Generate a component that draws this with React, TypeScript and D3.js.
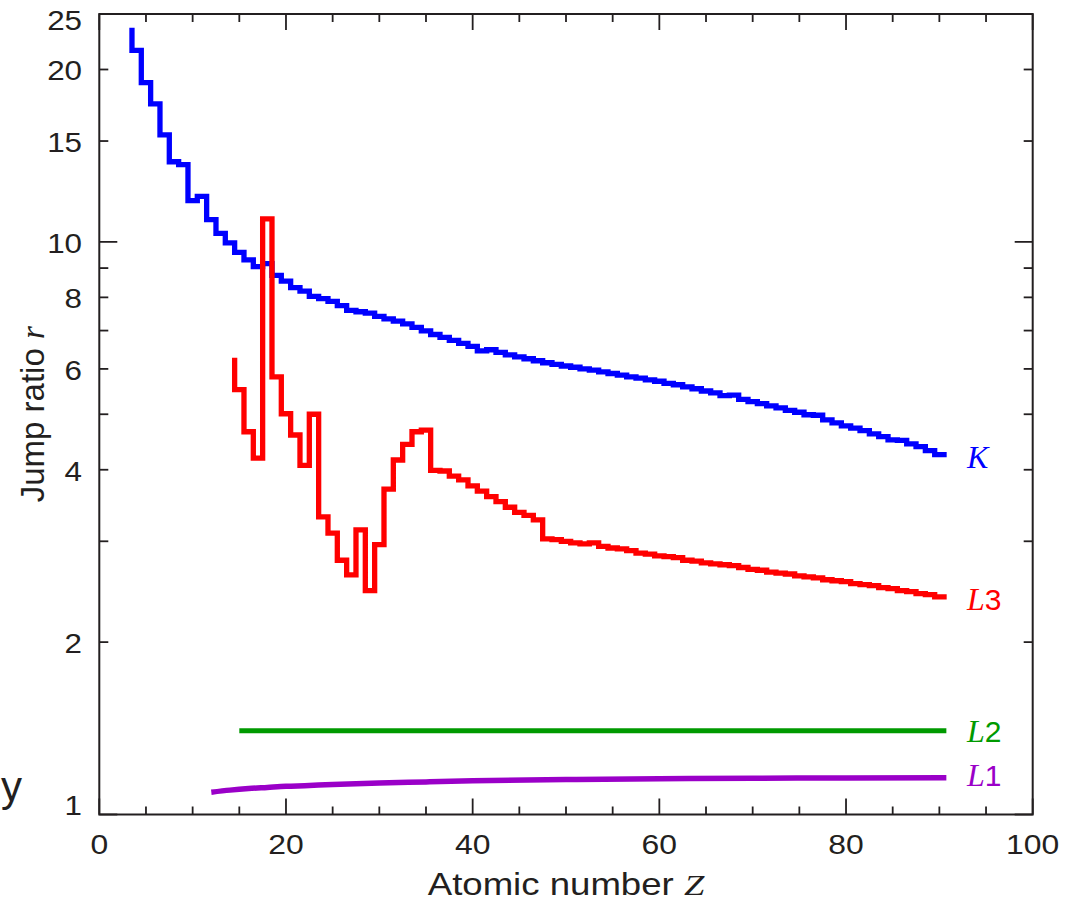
import React from 'react';
import * as d3 from 'd3';

const W = 1065;
const H = 903;
const PLOT = { left: 99.3, right: 1032.7, top: 14, bottom: 814.5 };

// K-edge jump ratio, Z = 3 .. 90
const K_START_Z = 3;
const kJump = [
  23.4, 21.6, 18.97, 17.42, 15.38, 13.8, 13.64, 11.8, 12.01, 10.94,
  10.35, 9.96, 9.59, 9.3, 9.05, 9.16, 8.74, 8.54, 8.32, 8.2,
  8.03, 7.96, 7.87, 7.74, 7.59, 7.55, 7.51, 7.41, 7.34, 7.27,
  7.19, 7.09, 6.99, 6.89, 6.81, 6.73, 6.65, 6.57, 6.45, 6.48,
  6.41, 6.35, 6.3, 6.25, 6.2, 6.15, 6.11, 6.07, 6.04, 6.0,
  5.97, 5.93, 5.89, 5.85, 5.81, 5.78, 5.74, 5.71, 5.66, 5.63,
  5.58, 5.54, 5.49, 5.45, 5.39, 5.4, 5.31, 5.26, 5.22, 5.17,
  5.13, 5.08, 5.04, 4.99, 4.98, 4.89, 4.83, 4.77, 4.73, 4.68,
  4.62, 4.57, 4.51, 4.5, 4.44, 4.39, 4.32, 4.25,
];

// L3-edge jump ratio, Z = 14 .. 90
const L3_START_Z = 14;
const l3Jump = [
  6.21, 5.52, 4.66, 4.19, 10.97, 5.81, 5.01, 4.6, 4.07, 5.0,
  3.31, 3.1, 2.78, 2.62, 3.14, 2.46, 2.96, 3.7, 4.16, 4.43,
  4.66, 4.69, 3.99, 3.98, 3.9, 3.84, 3.75, 3.67, 3.59, 3.52,
  3.44, 3.37, 3.33, 3.27, 3.03, 3.02, 3.0, 2.98, 2.97, 2.98,
  2.94, 2.92, 2.91, 2.89, 2.86, 2.85, 2.83, 2.82, 2.81, 2.78,
  2.77, 2.75, 2.74, 2.73, 2.72, 2.7, 2.68, 2.67, 2.65, 2.64,
  2.63, 2.61, 2.6, 2.59, 2.57, 2.56, 2.55, 2.53, 2.52, 2.51,
  2.49, 2.48, 2.46, 2.45, 2.43, 2.42, 2.4,
];

// L2-edge jump ratio (constant)
const l2Z = [15, 90.75];
const l2Jump = [1.4, 1.4];

// L1-edge jump ratio (smooth)
const l1Z = [12, 14, 16, 18, 20, 22, 25, 30, 35, 40, 50, 60, 70, 80, 90.75];
const l1Jump = [1.094, 1.103, 1.11, 1.115, 1.12, 1.123, 1.128, 1.135, 1.14, 1.145, 1.151, 1.155, 1.157, 1.158, 1.159];

const xMajorTicks = [0, 20, 40, 60, 80, 100];
const xMinorTicks = [5, 10, 15, 25, 30, 35, 45, 50, 55, 65, 70, 75, 85, 90, 95];
const yLabelTicks = [1, 2, 4, 6, 8, 10, 15, 20, 25];
const yLongTicks = [1, 10];
const yShortTicks = [2, 3, 4, 5, 6, 7, 8, 9, 15, 20];

const COLORS = { K: '#0000ff', L3: '#ff0000', L2: '#009a00', L1: '#9a00c8' };
const SANS = '"Liberation Sans", Arial, Helvetica, sans-serif';
const SERIF = '"Liberation Serif", "Times New Roman", serif';
const INK = '#231f20';

export default function App() {
  const x = d3.scaleLinear().domain([0, 100]).range([PLOT.left, PLOT.right]);
  const y = d3.scaleLog().domain([1, 25]).range([PLOT.bottom, PLOT.top]);

  const stepLine = d3
    .line<{ z: number; v: number }>()
    .x((d) => x(d.z + 0.5))
    .y((d) => y(d.v))
    .curve(d3.curveStepBefore);
  const smoothLine = d3
    .line<{ z: number; v: number }>()
    .x((d) => x(d.z))
    .y((d) => y(d.v))
    .curve(d3.curveMonotoneX);

  const kData = kJump.map((v, i) => ({ z: K_START_Z + i, v }));
  const l3Data = l3Jump.map((v, i) => ({ z: L3_START_Z + i, v }));
  const l2Data = l2Jump.map((v, i) => ({ z: l2Z[i], v }));
  const l1Data = l1Jump.map((v, i) => ({ z: l1Z[i], v }));

  const lastK = kData[kData.length - 1];
  const lastL3 = l3Data[l3Data.length - 1];
  const labelX = 967;

  const tickStroke = { stroke: INK, strokeWidth: 1.8 };

  return (
    <svg width={W} height={H} style={{ position: 'absolute', left: 0, top: 0, background: '#fff' }}>
      {/* data lines */}
      <path d={stepLine(kData) || ''} fill="none" stroke={COLORS.K} strokeWidth={5.3} strokeLinecap="square" strokeLinejoin="miter" />
      <path d={stepLine(l3Data) || ''} fill="none" stroke={COLORS.L3} strokeWidth={5.3} strokeLinecap="square" strokeLinejoin="miter" />
      <path d={smoothLine(l2Data) || ''} fill="none" stroke={COLORS.L2} strokeWidth={5} />
      <path d={smoothLine(l1Data) || ''} fill="none" stroke={COLORS.L1} strokeWidth={5.5} />

      {/* frame */}
      <rect x={PLOT.left} y={PLOT.top} width={PLOT.right - PLOT.left} height={PLOT.bottom - PLOT.top} fill="none" stroke={INK} strokeWidth={2} />

      {/* x ticks bottom & top */}
      {xMajorTicks.map((t) => (
        <g key={'xM' + t}>
          <line x1={x(t)} x2={x(t)} y1={PLOT.bottom} y2={PLOT.bottom - 16} {...tickStroke} />
          <line x1={x(t)} x2={x(t)} y1={PLOT.top} y2={PLOT.top + 16} {...tickStroke} />
          <text
            transform={`translate(${x(t)},${854}) scale(1.12,1)`}
            textAnchor="middle"
            fontFamily={SANS}
            fontSize={28.5}
            fill={INK}
          >
            {t}
          </text>
        </g>
      ))}
      {xMinorTicks.map((t) => (
        <g key={'xm' + t}>
          <line x1={x(t)} x2={x(t)} y1={PLOT.bottom} y2={PLOT.bottom - 8} {...tickStroke} />
          <line x1={x(t)} x2={x(t)} y1={PLOT.top} y2={PLOT.top + 8} {...tickStroke} />
        </g>
      ))}

      {/* y ticks left & right */}
      {yLongTicks.map((t) => (
        <g key={'yL' + t}>
          <line x1={PLOT.left} x2={PLOT.left + 18} y1={y(t)} y2={y(t)} {...tickStroke} />
          <line x1={PLOT.right} x2={PLOT.right - 18} y1={y(t)} y2={y(t)} {...tickStroke} />
        </g>
      ))}
      {yShortTicks.map((t) => (
        <g key={'yS' + t}>
          <line x1={PLOT.left} x2={PLOT.left + 9} y1={y(t)} y2={y(t)} {...tickStroke} />
          <line x1={PLOT.right} x2={PLOT.right - 9} y1={y(t)} y2={y(t)} {...tickStroke} />
        </g>
      ))}
      {yLabelTicks.map((t) => {
        const base = Math.min(Math.max(y(t) + 11, PLOT.top + 15.5), PLOT.bottom);
        return (
          <text
            key={'yl' + t}
            transform={`translate(82,${base}) scale(1.1,1)`}
            textAnchor="end"
            fontFamily={SANS}
            fontSize={28.5}
            fill={INK}
          >
            {t}
          </text>
        );
      })}

      {/* axis titles */}
      <text
        transform={`translate(${(PLOT.left + PLOT.right) / 2},895) scale(1.2,1)`}
        textAnchor="middle"
        fontFamily={SANS}
        fontSize={30.5}
        fill={INK}
      >
        Atomic number <tspan fontFamily={SERIF} fontStyle="italic">Z</tspan>
      </text>
      <text
        transform={`translate(43.5,${(PLOT.top + PLOT.bottom) / 2}) rotate(-90)`}
        textAnchor="middle"
        fontFamily={SANS}
        fontSize={33}
        fill={INK}
      >
        Jump ratio <tspan fontFamily={SERIF} fontStyle="italic">r</tspan>
      </text>

      <text x={1} y={801} fontFamily={SANS} fontSize={42} fill={INK}>
        y
      </text>

      {/* series labels */}
      <text x={labelX} y={y(lastK.v) + 13} fontFamily={SERIF} fontStyle="italic" fontSize={32} fill={COLORS.K}>
        K
      </text>
      <text x={labelX} y={y(lastL3.v) + 13} fontSize={30} fill={COLORS.L3}>
        <tspan fontFamily={SERIF} fontStyle="italic" fontSize={32}>L</tspan>
        <tspan fontFamily={SANS}>3</tspan>
      </text>
      <text x={labelX} y={y(l2Jump[l2Jump.length - 1]) + 11} fontSize={30} fill={COLORS.L2}>
        <tspan fontFamily={SERIF} fontStyle="italic" fontSize={32}>L</tspan>
        <tspan fontFamily={SANS}>2</tspan>
      </text>
      <text x={labelX} y={y(l1Jump[l1Jump.length - 1]) + 8} fontSize={30} fill={COLORS.L1}>
        <tspan fontFamily={SERIF} fontStyle="italic" fontSize={32}>L</tspan>
        <tspan fontFamily={SANS}>1</tspan>
      </text>
    </svg>
  );
}
